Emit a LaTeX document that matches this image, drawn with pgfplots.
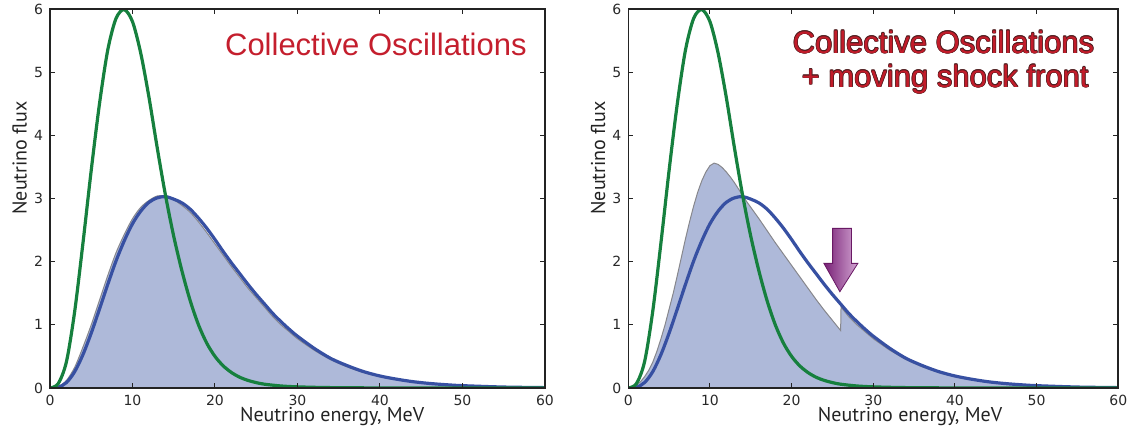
\documentclass[border=0pt]{standalone}
\usepackage{pgfplots}
\pgfplotsset{compat=1.18}
\usepackage{pgfplotstable}
\usepackage{fontspec}
\setmainfont{PT Sans}
\newfontfamily\arialf{Liberation Sans}
\newfontfamily\dejavu{DejaVu Sans}

\definecolor{greenc}{RGB}{22,128,62}
\definecolor{bluec}{RGB}{55,80,162}
\definecolor{fillc}{RGB}{174,185,217}
\definecolor{edgec}{RGB}{135,135,140}
\definecolor{titlered}{RGB}{196,30,45}
\definecolor{titlered2}{RGB}{194,28,42}
\definecolor{outl}{RGB}{80,30,32}
\definecolor{axiscol}{RGB}{35,35,35}
\definecolor{tickcol}{RGB}{40,40,40}
\definecolor{labcol}{RGB}{35,35,35}
\definecolor{arrdark}{RGB}{120,32,118}
\definecolor{arrlight}{RGB}{210,165,210}
\definecolor{arredge}{RGB}{105,25,100}

\pgfplotstableread{
x y
0 0
1 0.07
2 0.42
3 1.22
4 2.3
5 3.45
6 4.5
7 5.35
8 5.85
9 5.99
10 5.8
11 5.3
12 4.6
13 3.8
14 3.05
15 2.4
16 1.85
17 1.38
18 1.0
19 0.71
20 0.5
21 0.35
22 0.245
23 0.17
24 0.12
25 0.085
26 0.06
28 0.032
30 0.018
33 0.008
36 0.004
40 0.0015
50 0.0002
60 0
}\greendata

\pgfplotstableread{
x y
0 0
1 0.011
2 0.087
3 0.26
4 0.53
5 0.87
6 1.25
7 1.64
8 2.01
9 2.33
10 2.6
11 2.8
12 2.94
13 3.01
14 3.03
15 2.99
16 2.93
17 2.83
18 2.69
19 2.53
20 2.35
21 2.16
22 1.98
23 1.81
24 1.64
25 1.48
26 1.33
27 1.18
28 1.05
29 0.93
30 0.82
32 0.63
34 0.47
36 0.355
38 0.26
40 0.19
42 0.14
44 0.10
46 0.072
48 0.052
50 0.037
55 0.015
60 0.006
}\bluedata

\pgfplotstableread{
x y
0 0
1 0.02
2 0.12
3 0.33
4 0.65
5 1.0
6 1.39
7 1.78
8 2.14
9 2.43
10 2.68
11 2.86
12 2.97
13 3.04
14 3.04
15 2.98
16 2.89
17 2.78
18 2.63
19 2.46
20 2.28
21 2.1
22 1.92
23 1.75
24 1.58
25 1.43
26 1.28
27 1.13
28 1.0
29 0.89
30 0.78
32 0.6
34 0.45
36 0.335
38 0.245
40 0.18
42 0.13
44 0.094
46 0.068
48 0.049
50 0.035
55 0.014
60 0.005
}\grayleft

\pgfplotstableread{
x y
0 0
0.5 0.01
1 0.05
1.5 0.1
2 0.18
2.5 0.28
3 0.41
3.5 0.58
4 0.78
4.5 1.0
5 1.25
5.5 1.5
6 1.78
6.5 2.07
7 2.36
7.5 2.63
8 2.88
8.5 3.1
9 3.28
9.5 3.42
10 3.52
10.5 3.56
11 3.54
11.5 3.49
12 3.42
12.5 3.34
13 3.25
13.5 3.15
14 3.05
14.5 2.95
15 2.86
16 2.68
17 2.49
18 2.3
19 2.12
20 1.94
21 1.76
22 1.58
23 1.4
24 1.23
25 1.07
26 0.91
26.05 1.28
27 1.13
28 1.0
29 0.89
30 0.78
32 0.6
34 0.45
36 0.335
38 0.245
40 0.18
42 0.13
44 0.094
46 0.068
48 0.049
50 0.035
55 0.014
60 0.005
}\grayright

\tikzset{tstyle/.style={anchor=base, font=\arialf\fontsize{15.5}{18}\selectfont}}

\pgfplotsset{
  panel/.style={
    scale only axis, height=189.5pt,
    anchor=south west,
    xmin=0, xmax=60, ymin=0, ymax=6,
    xtick={0,10,...,60}, ytick={0,1,...,6},
    tick align=inside, major tick length=2.5pt,
    axis line style={line width=0.8pt, color=axiscol},
    tick style={color=axiscol, line width=0.5pt},
    ticklabel style={font=\dejavu\fontsize{7}{8}\selectfont, text=tickcol},
    /pgf/number format/assume math mode=true,
    label style={font=\fontsize{10}{12}\selectfont, text=labcol},
    xlabel={Neutrino energy, MeV},
    ylabel={Neutrino flux},
    ylabel style={at={(axis description cs:-0.0616,0.607)}, anchor=center},
    axis on top,
  },
}

\newcommand\olnode[3]{%
  \node[tstyle, text=outl, xshift=0.3pt] at (axis cs:#1,#2) {#3};
  \node[tstyle, text=outl, xshift=-0.3pt] at (axis cs:#1,#2) {#3};
  \node[tstyle, text=outl, yshift=0.3pt] at (axis cs:#1,#2) {#3};
  \node[tstyle, text=outl, yshift=-0.3pt] at (axis cs:#1,#2) {#3};
  \node[tstyle, text=outl, xshift=0.21pt, yshift=0.21pt] at (axis cs:#1,#2) {#3};
  \node[tstyle, text=outl, xshift=-0.21pt, yshift=0.21pt] at (axis cs:#1,#2) {#3};
  \node[tstyle, text=outl, xshift=0.21pt, yshift=-0.21pt] at (axis cs:#1,#2) {#3};
  \node[tstyle, text=outl, xshift=-0.21pt, yshift=-0.21pt] at (axis cs:#1,#2) {#3};
  \node[tstyle, text=titlered2] at (axis cs:#1,#2) {#3};
}

\begin{document}
\begin{tikzpicture}
\useasboundingbox (0,0) rectangle (566pt,214.5pt);

\begin{axis}[panel, width=247.5pt, at={(25pt,20.5pt)},
  xlabel style={at={(axis description cs:0.57,-0.0889)}, anchor=base}]
  \addplot[fill=fillc, draw=edgec, line width=0.5pt, smooth] table[x=x,y=y] {\grayleft} \closedcycle;
  \addplot[bluec, line width=1.6pt, smooth] table[x=x,y=y] {\bluedata};
  \addplot[greenc, line width=1.6pt, smooth] table[x=x,y=y] {\greendata};
  \node[tstyle, text=titlered] at (axis cs:39.5,5.27) {Collective Oscillations};
\end{axis}

\begin{axis}[panel, width=245pt, at={(314.15pt,20.5pt)},
  xlabel style={at={(axis description cs:0.575,-0.0889)}, anchor=base}]
  \addplot[fill=fillc, draw=edgec, line width=0.5pt] table[x=x,y=y] {\grayright} \closedcycle;
  \addplot[bluec, line width=1.6pt, smooth] table[x=x,y=y] {\bluedata};
  \addplot[greenc, line width=1.6pt, smooth] table[x=x,y=y] {\greendata};
  \shadedraw[left color=arrdark, right color=arrlight, draw=arredge, line width=0.4pt]
    (axis cs:25.02,2.527) -- (axis cs:27.34,2.527) -- (axis cs:27.34,1.973)
    -- (axis cs:28.11,1.973) -- (axis cs:25.91,1.524) -- (axis cs:23.95,1.973)
    -- (axis cs:25.02,1.973) -- cycle;
  \olnode{38.6}{5.30}{Collective Oscillations}
  \olnode{38.8}{4.76}{+ moving shock front}
\end{axis}
\end{tikzpicture}
\end{document}
